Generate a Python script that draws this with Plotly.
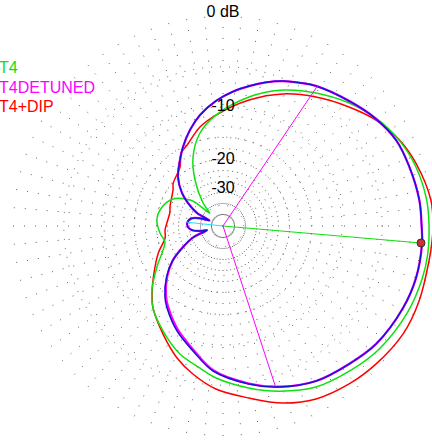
import numpy as np
import plotly.graph_objects as go

# ---------------- data (azimuth deg, dB) ----------------
series_names = ["T4", "T4DETUNED", "T4+DIP"]
series_colors = ["#10e010", "#ff00ff", "#ff0000"]

t4_theta = [0, 7.3, 17, 26, 35.2, 44.3, 55, 66.2, 78.6, 93.6, 103.9, 113.5, 121.3, 131,
            136, 139.2, 141.8, 151.6, 162.7, 174.8, 186.3, 195.4, 201.8, 211.8, 222,
            229.5, 240.3, 251.4, 260.8, 267.4, 279, 289, 300, 312, 322, 335, 345, 352]
t4_db = [-0.57, -0.63, -0.93, -1.44, -2.21, -3.26, -4.66, -6.18, -8.26, -11.16, -13.71,
         -17.87, -23.6, -33.4, -42.0, -31.1, -27.9, -22.7, -20.7, -20.0, -20.8, -21.7,
         -20.5, -17.3, -13.75, -11.69, -9.72, -7.83, -6.73, -5.77, -4.49, -3.4, -2.33,
         -1.69, -1.17, -0.76, -0.57, -0.52]

det_theta = [0, 7.5, 17.7, 26.4, 35.5, 44.5, 56.4, 62, 67.6, 73.3, 79.4, 85.9, 93.2, 101.7,
             109, 116.9, 123.1, 132.6, 141.2, 146.7, 153.4, 158, 161.5, 166.2, 173, 181,
             187.3, 192.3, 194.6, 200.8, 207.5, 214.4, 222, 230.6, 235.7, 246.3, 256.5,
             266.1, 279.3, 289.2, 301, 312.4, 322.4, 335.5, 344.9, 355]
det_db = [-1.2, -1.25, -1.47, -1.67, -2.3, -3.1, -4.06, -4.66, -5.26, -6.02, -6.91, -7.87,
          -9.1, -10.82, -12.72, -15.07, -17.07, -19.98, -24.0, -27.9, -34.2, -46.0, -37.3,
          -32.4, -30.7, -30.8, -32.8, -37.8, -44.0, -32.6, -26.8, -21.5, -17.9, -14.8,
          -13.4, -10.9, -8.85, -6.65, -4.95, -3.85, -2.81, -2.24, -1.67, -1.27, -1.09, -1.1]

dip_theta = [0, 7, 18, 26, 34.7, 43.4, 54.2, 65.6, 78.3, 93.6, 103.1, 113, 120, 126.1,
             139.3, 144.3, 160, 165.4, 174.8, 184, 191.7, 202.9, 216.6, 223.8, 229.5,
             240.9, 250.8, 258.5, 267.5, 278.6, 288.7, 298.3, 308.6, 317.9, 329, 339.1,
             350.4, 355.9]
dip_db = [-0.24, -0.28, -0.83, -1.4, -2.32, -3.54, -5.02, -6.6, -8.65, -11.16, -12.7,
          -14.9, -16.0, -18.4, -20.2, -21.3, -22.8, -23.3, -23.0, -22.3, -22.0, -19.0,
          -15.4, -13.27, -11.69, -9.35, -7.23, -5.9, -4.57, -3.47, -2.24, -1.39, -0.9,
          -0.57, -0.25, -0.25, -0.33, -0.28]

# 4th (unlabelled) trace drawn in blue over T4DETUNED
blue_theta = det_theta
blue_db = [-1.2, -1.25, -1.47, -1.67, -2.3, -3.1, -4.06, -4.66, -5.26, -6.02, -6.91, -7.87,
           -9.1, -10.82, -12.72, -15.07, -17.07, -19.98, -24.0, -27.9, -34.2, -46.0, -37.3,
           -32.4, -30.7, -30.8, -32.8, -37.8, -44.0, -32.6, -26.8, -21.5, -17.7, -14.5,
           -13.1, -10.64, -8.67, -6.56, -4.9, -3.82, -2.81, -2.24, -1.67, -1.27, -1.09, -1.1]

# markers / indicator lines
max_theta, max_db = 355.1, -1.19
bw_theta = [56.0, 288.1]
bw_db = [-3.9, -4.1]
back_theta, back_db = 174.0, -30.5

ring_db = [0, -5, -10, -15, -20, -25, -30, -40, -50]
label_db = [0, -10, -20, -30]
label_text = ["0 dB", "-10", "-20", "-30"]


def arrl(db):
    """ARRL log scale: radius factor 0.89 per 2 dB."""
    return 0.89 ** (-np.asarray(db, dtype=float) / 2.0)


def closed(th, db):
    return list(th) + [th[0]], list(arrl(list(db) + [db[0]]))


fig = go.Figure()

grid_col = "#606060"
FONT = "Arial, Liberation Sans, sans-serif"

def add_pattern(th, db, color, width):
    t, r = closed(th, db)
    fig.add_trace(go.Scatterpolar(theta=t, r=r, mode="lines",
                                  line=dict(color=color, width=width, shape="spline", smoothing=1.0),
                                  hoverinfo="skip", showlegend=False))

add_pattern(dip_theta, dip_db, series_colors[2], 1.5)
add_pattern(t4_theta, t4_db, series_colors[0], 1.5)
add_pattern(det_theta, det_db, series_colors[1], 2.3)
add_pattern(blue_theta, blue_db, "#1414d8", 1.5)

# -3 dB beamwidth lines
fig.add_trace(go.Scatterpolar(theta=[bw_theta[0], bw_theta[0], bw_theta[1]],
                              r=[float(arrl(bw_db[0])), 0, float(arrl(bw_db[1]))],
                              mode="lines", line=dict(color="#ff00ff", width=1),
                              hoverinfo="skip", showlegend=False))
# back direction line
fig.add_trace(go.Scatterpolar(theta=[back_theta, back_theta], r=[0, float(arrl(back_db))],
                              mode="lines", line=dict(color="#20e0ff", width=1.2),
                              hoverinfo="skip", showlegend=False))
# max direction line
fig.add_trace(go.Scatterpolar(theta=[max_theta, max_theta], r=[0, float(arrl(max_db))],
                              mode="lines", line=dict(color="#10e010", width=1.2),
                              hoverinfo="skip", showlegend=False))
fig.add_trace(go.Scatterpolar(theta=[max_theta], r=[float(arrl(max_db))], mode="markers",
                              marker=dict(size=8, color="#d03030", line=dict(color="#303030", width=1)),
                              hoverinfo="skip", showlegend=False, cliponaxis=False))

# ring labels
fig.add_trace(go.Scatterpolar(theta=[90] * len(label_db), r=list(arrl(label_db)),
                              mode="text", text=label_text,
                              textfont=dict(family=FONT, size=16, color="black"),
                              hoverinfo="skip", showlegend=False, cliponaxis=False))

# plot-area geometry
W, H = 436, 442
ML, MT, SIDE = 10, 13, 426

# legend as coloured text
for i, (nm, col) in enumerate(zip(series_names, series_colors)):
    fig.add_annotation(text=nm, xref="paper", yref="paper",
                       x=(-3 - ML) / SIDE, y=1 - (67 + 20 * i - MT) / SIDE,
                       xanchor="left", yanchor="middle", showarrow=False,
                       font=dict(family=FONT, size=16, color=col))

fig.update_layout(
    width=W, height=H,
    margin=dict(l=ML, r=W - ML - SIDE, t=MT, b=H - MT - SIDE),
    paper_bgcolor="white",
    showlegend=False,
    polar=dict(
        domain=dict(x=[0, 1], y=[0, 1]),
        bgcolor="white",
        radialaxis=dict(range=[0, 1], tickmode="array", tickvals=list(arrl(ring_db)),
                        showticklabels=False, ticks="", showline=False,
                        gridcolor=grid_col, gridwidth=1, griddash="1px,8px"),
        angularaxis=dict(rotation=0, direction="counterclockwise", tickmode="linear",
                         tick0=0, dtick=5, showticklabels=False, ticks="", showline=False,
                         gridcolor=grid_col, gridwidth=1, griddash="1px,10px"),
    ),
)

fig.write_html("out.html", config={"displayModeBar": False},
               post_script="document.body.style.margin='0px';document.body.style.overflow='hidden';")
